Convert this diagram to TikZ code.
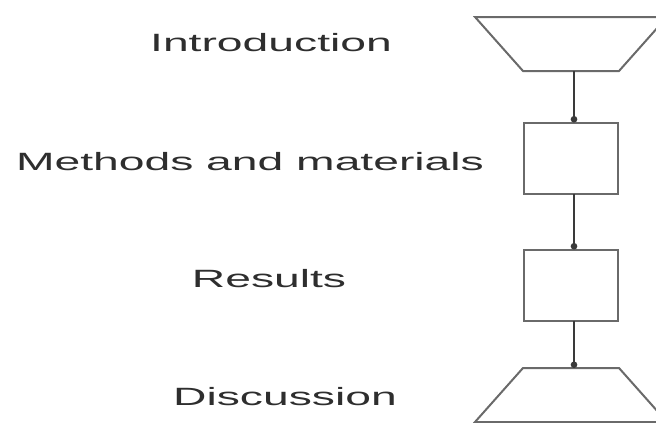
\documentclass[tikz,border=0pt]{standalone}
\usepackage{fontspec}
\setmainfont{Liberation Sans}
\usetikzlibrary{arrows.meta}
\definecolor{inkgray}{HTML}{2E2E2E}
\definecolor{edgegray}{HTML}{6A6A6A}
\definecolor{linkgray}{HTML}{3A3A3A}
\newcommand{\widelabel}[1]{\scalebox{1.85}[1]{#1}}
\tikzset{
  label text/.style={anchor=base, inner sep=0pt, text=inkgray,
    font=\fontsize{25}{30}\selectfont},
  stage box/.style={draw=edgegray, line width=2pt, inner sep=0pt, outer sep=0pt,
    minimum width=94, minimum height=71},
  % the narrow side of a funnel; its slanted sides are added by the path below
  funnel core/.style={inner sep=0pt, outer sep=0pt, minimum width=96, minimum height=54},
  funnel line/.style={draw=edgegray, line width=2pt, line join=miter},
  link/.style={draw=linkgray, line width=2pt, -{Circle[length=6.5pt]}},
}
\begin{document}
\begin{tikzpicture}[x=1pt, y=-1pt]
  \useasboundingbox (0,0) rectangle (656,423);
  % stage shapes
  \node[funnel core] (intro) at (571,44) {};
  \draw[funnel line] ([xshift=-48pt]intro.north west) -- ([xshift=48pt]intro.north east)
    -- (intro.south east) -- (intro.south west) -- cycle;
  \node[stage box] (methods) at (571,158) {};
  \node[stage box] (results) at (571,285) {};
  \node[funnel core] (discussion) at (571,395) {};
  \draw[funnel line] (discussion.north west) -- (discussion.north east)
    -- ([xshift=48pt]discussion.south east) -- ([xshift=-48pt]discussion.south west) -- cycle;
  % stage names
  \node[label text] (tintro) at (271,51) {\widelabel{Introduction}};
  \node[label text] (tmethods) at (250,170) {\widelabel{Methods and materials}};
  \node[label text] (tresults) at (269,287) {\widelabel{Results}};
  \node[label text] (tdiscussion) at (285,405) {\widelabel{Discussion}};
  % connectors
  \draw[link] ([xshift=3pt]intro.south) -- ([xshift=3pt]methods.north);
  \draw[link] ([xshift=3pt]methods.south) -- ([xshift=3pt]results.north);
  \draw[link] ([xshift=3pt]results.south) -- ([xshift=3pt]discussion.north);
\end{tikzpicture}
\end{document}
